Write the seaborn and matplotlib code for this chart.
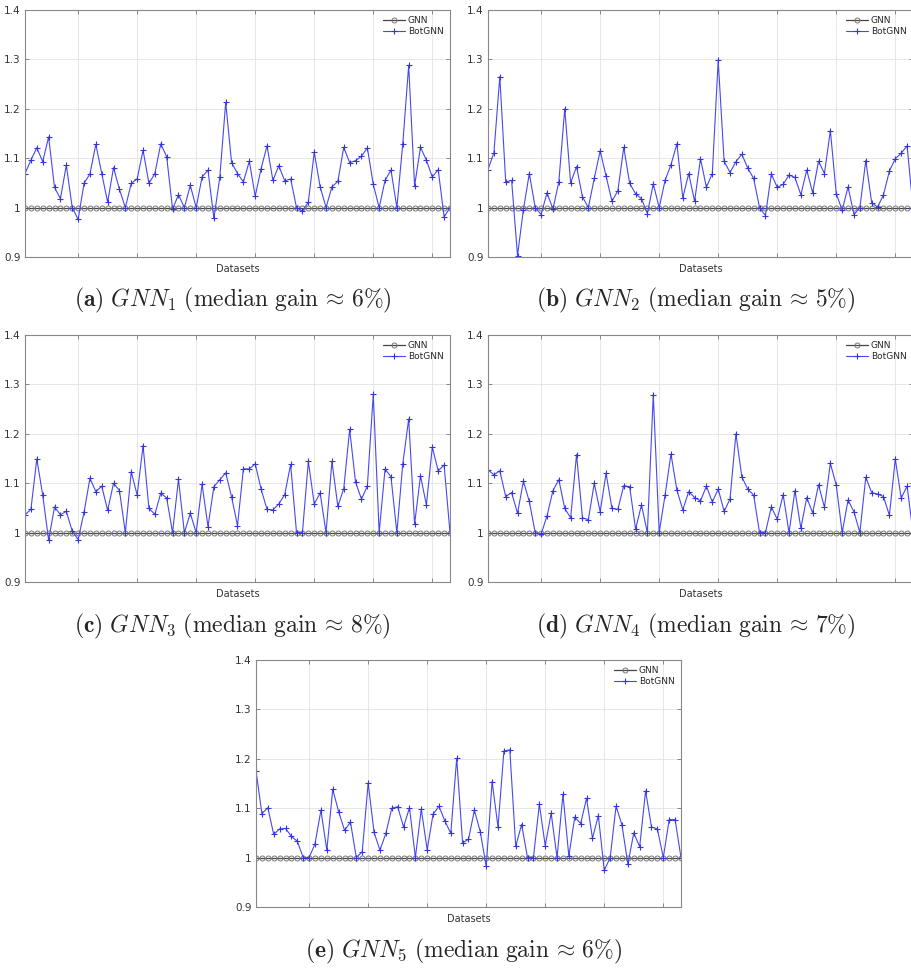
import numpy as np
import pandas as pd
import matplotlib
matplotlib.use('Agg')
import matplotlib.pyplot as plt
import seaborn as sns

# 73 datasets, relative accuracy of BotGNN vs GNN (GNN = 1)
datasets = list(range(1, 74))
baseline = [1.0] * 73

gnn1 = [1.069, 1.096, 1.121, 1.093, 1.143, 1.041, 1.018, 1.086, 1.0, 0.976,
        1.049, 1.068, 1.128, 1.069, 1.011, 1.081, 1.037, 1.0, 1.049, 1.058,
        1.116, 1.049, 1.069, 1.129, 1.103, 0.997, 1.026, 1.0, 1.045, 1.0,
        1.062, 1.076, 0.978, 1.061, 1.213, 1.091, 1.069, 1.052, 1.094, 1.023,
        1.079, 1.125, 1.055, 1.085, 1.054, 1.058, 1.0, 0.993, 1.011, 1.112,
        1.042, 1.0, 1.042, 1.053, 1.122, 1.091, 1.095, 1.104, 1.121, 1.047,
        1.0, 1.055, 1.076, 1.0, 1.129, 1.288, 1.044, 1.122, 1.096, 1.062,
        1.077, 0.981, 1.0]
gnn2 = [1.077, 1.111, 1.265, 1.052, 1.055, 0.903, 0.996, 1.069, 1.0, 0.986,
        1.03, 0.997, 1.052, 1.2, 1.05, 1.083, 1.022, 1.0, 1.059, 1.115,
        1.064, 1.013, 1.034, 1.122, 1.049, 1.028, 1.018, 0.988, 1.048, 1.0,
        1.055, 1.087, 1.129, 1.02, 1.069, 1.013, 1.099, 1.041, 1.069, 1.298,
        1.094, 1.071, 1.093, 1.108, 1.08, 1.059, 1.0, 0.984, 1.068, 1.041,
        1.047, 1.066, 1.061, 1.026, 1.076, 1.03, 1.094, 1.069, 1.156, 1.028,
        0.995, 1.042, 0.986, 1.0, 1.095, 1.01, 1.001, 1.026, 1.074, 1.099,
        1.11, 1.125, 1.0]
gnn3 = [1.036, 1.047, 1.149, 1.076, 0.985, 1.052, 1.036, 1.043, 1.003, 0.986,
        1.041, 1.11, 1.083, 1.094, 1.045, 1.1, 1.085, 1.0, 1.123, 1.076,
        1.176, 1.049, 1.037, 1.08, 1.07, 1.0, 1.108, 1.0, 1.039, 1.0,
        1.098, 1.012, 1.093, 1.107, 1.121, 1.072, 1.014, 1.129, 1.129, 1.139,
        1.088, 1.047, 1.046, 1.058, 1.077, 1.138, 1.0, 1.0, 1.144, 1.058,
        1.08, 1.0, 1.144, 1.053, 1.089, 1.209, 1.102, 1.068, 1.094, 1.28,
        1.0, 1.129, 1.113, 1.0, 1.139, 1.23, 1.017, 1.115, 1.056, 1.173,
        1.125, 1.137, 1.0]
gnn4 = [1.127, 1.117, 1.125, 1.073, 1.081, 1.039, 1.104, 1.063, 1.0, 0.997,
        1.034, 1.085, 1.107, 1.049, 1.03, 1.158, 1.03, 1.026, 1.1, 1.042,
        1.12, 1.049, 1.047, 1.095, 1.093, 1.007, 1.056, 1.0, 1.279, 1.0,
        1.076, 1.159, 1.086, 1.046, 1.083, 1.071, 1.064, 1.094, 1.062, 1.088,
        1.043, 1.068, 1.2, 1.113, 1.088, 1.076, 1.0, 1.0, 1.052, 1.027,
        1.077, 1.0, 1.085, 1.009, 1.071, 1.04, 1.097, 1.051, 1.14, 1.096,
        1.0, 1.066, 1.042, 1.0, 1.112, 1.081, 1.078, 1.073, 1.035, 1.149,
        1.07, 1.094, 1.0]
gnn5 = [1.176, 1.089, 1.101, 1.047, 1.058, 1.059, 1.043, 1.033, 1.0, 1.0,
        1.028, 1.096, 1.015, 1.138, 1.093, 1.055, 1.072, 1.0, 1.012, 1.151,
        1.051, 1.015, 1.049, 1.1, 1.103, 1.062, 1.101, 1.0, 1.098, 1.016,
        1.088, 1.104, 1.074, 1.049, 1.201, 1.03, 1.037, 1.096, 1.052, 0.982,
        1.154, 1.062, 1.216, 1.218, 1.023, 1.067, 1.0, 1.0, 1.108, 1.024,
        1.09, 1.0, 1.128, 1.003, 1.082, 1.069, 1.12, 1.039, 1.085, 0.974,
        1.0, 1.104, 1.066, 0.987, 1.05, 1.022, 1.135, 1.062, 1.058, 1.0,
        1.077, 1.077, 1.0]

series = [gnn1, gnn2, gnn3, gnn4, gnn5]
captions = [r'$\mathbf{(a)}\ GNN_1\ \mathrm{(median\ gain}\,\approx\,\mathrm{6\%)}$',
            r'$\mathbf{(b)}\ GNN_2\ \mathrm{(median\ gain}\,\approx\,\mathrm{5\%)}$',
            r'$\mathbf{(c)}\ GNN_3\ \mathrm{(median\ gain}\,\approx\,\mathrm{8\%)}$',
            r'$\mathbf{(d)}\ GNN_4\ \mathrm{(median\ gain}\,\approx\,\mathrm{7\%)}$',
            r'$\mathbf{(e)}\ GNN_5\ \mathrm{(median\ gain}\,\approx\,\mathrm{6\%)}$']
yticks = [0.9, 1.0, 1.1, 1.2, 1.3, 1.4]
ytick_labels = ['0.9', '1', '1.1', '1.2', '1.3', '1.4']

sns.set_style('whitegrid')
plt.rcParams['mathtext.fontset'] = 'cm'

W, H = 912, 969
fig = plt.figure(figsize=(W / 100, H / 100), dpi=100)

# (left, top) of each panel in pixels
boxes = [(25, 10), (488, 10), (25, 335), (488, 335), (256, 660)]
cap_y = [300, 300, 626, 626, 951]
aw, ah = 425, 247

for vals, (l, t), cap, cy in zip(series, boxes, captions, cap_y):
    ax = fig.add_axes([l / W, 1 - (t + ah) / H, aw / W, ah / H])
    df = pd.DataFrame({'Dataset': datasets, 'GNN': baseline, 'BotGNN': vals})
    sns.lineplot(x='Dataset', y='GNN', data=df, ax=ax, color='#444444', linewidth=0.9,
                 marker='o', markersize=3.6, markerfacecolor='none',
                 markeredgecolor='#777777', markeredgewidth=0.7, label='GNN')
    sns.lineplot(x='Dataset', y='BotGNN', data=df, ax=ax, color='#4848f0', linewidth=0.8,
                 marker='+', markersize=4.5, markeredgewidth=0.8,
                 markeredgecolor='#3535e0', label='BotGNN')
    ax.set_xlim(1, 73)
    ax.set_ylim(0.9, 1.4)
    ax.set_xticks(range(10, 71, 10))
    ax.set_xticklabels([])
    ax.set_yticks(yticks)
    ax.set_yticklabels(ytick_labels)
    ax.set_xlabel('Datasets', fontsize=7, color='#333333', labelpad=2)
    ax.set_ylabel('')
    ax.grid(True, color='#e3e3e3', linewidth=0.6)
    ax.tick_params(direction='in', length=3, width=0.6, colors='#777777',
                   labelcolor='#333333', labelsize=7.5, top=True, right=True,
                   left=True, bottom=True, pad=3)
    for sp in ax.spines.values():
        sp.set_color('#888888')
        sp.set_linewidth(0.8)
    ax.legend(loc='upper right', frameon=False, fontsize=6.5, handlelength=2.5,
              borderaxespad=0.3, labelspacing=0.15, handletextpad=0.3)
    fig.text((l + aw / 2 - 5) / W, 1 - cy / H, cap, ha='center', va='center', fontsize=17)

fig.savefig('out.png', dpi=100)
